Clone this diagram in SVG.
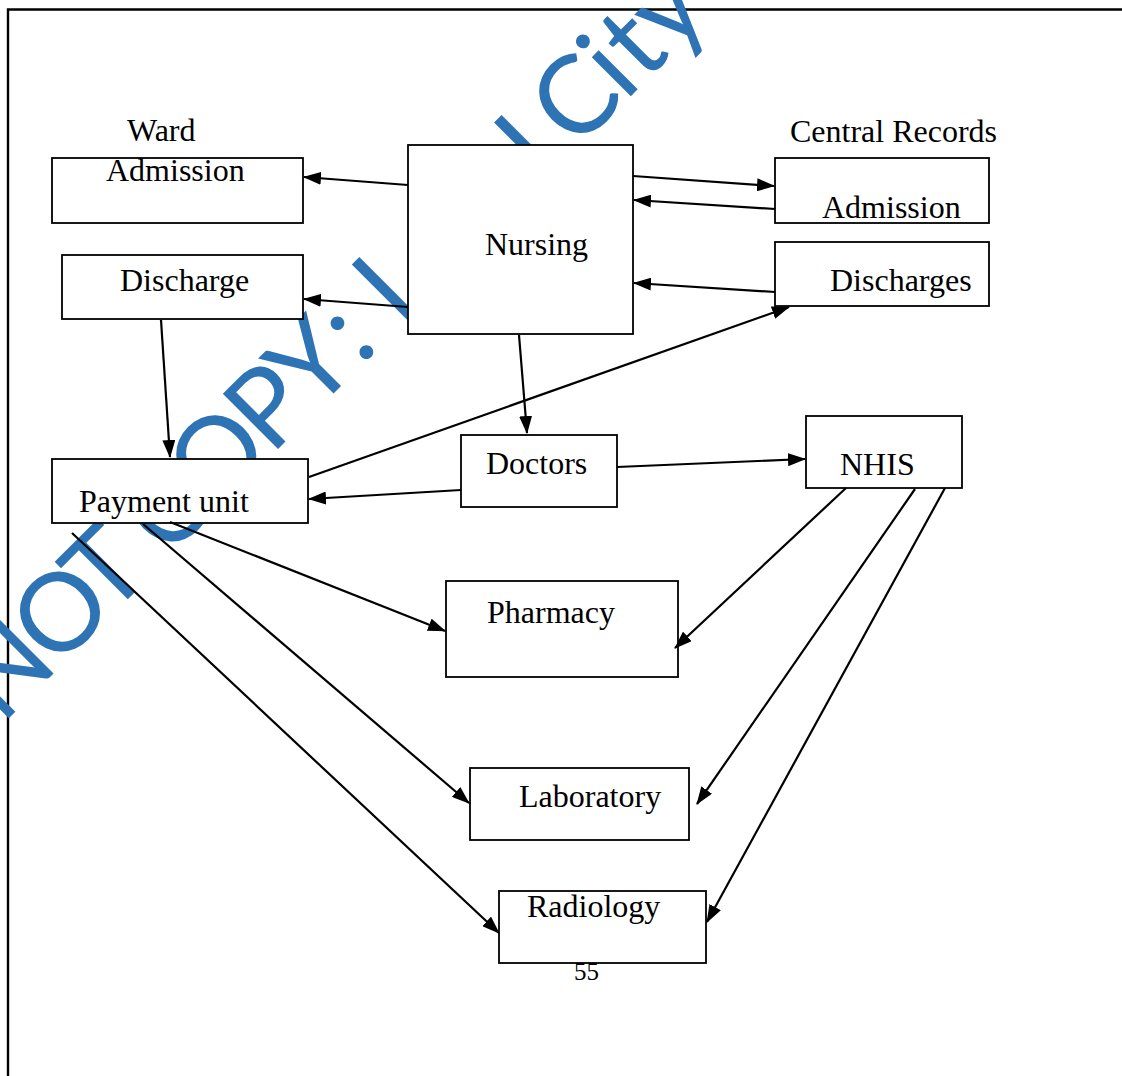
<svg xmlns="http://www.w3.org/2000/svg" width="1122" height="1076" viewBox="0 0 1122 1076">
<style>
.box{fill:#fff;stroke:#000;stroke-width:1.8}
.lbl{font-family:"Liberation Serif","Times New Roman",serif;font-size:32px;fill:#000}
.con line{stroke:#000;stroke-width:2.2;marker-end:url(#ah)}
.frame{stroke:#000;stroke-width:2.4;fill:none}
.wm{font-family:Lato,"Open Sans",sans-serif;font-size:109px;fill:#2E74B5}
</style>
<defs>
<marker id="ah" markerUnits="userSpaceOnUse" markerWidth="18" markerHeight="13" refX="17" refY="6.5" orient="auto"><path d="M0,0 L18,6.5 L0,13 z" fill="#000"/></marker>
</defs>
<rect width="1122" height="1076" fill="#fff"/>
<g id="frame"><path class="frame" d="M8,1076 V9.5 H1122"/></g>
<g id="watermark" transform="rotate(-45)"><text class="wm" y="514" text-anchor="middle" x="-470 -390 -328 -287 -241 -169 -98 -37 10 38 67 160 268 300 337 383 417 465">NOT COPY: I I City</text></g>
<g id="ward-admission"><text class="lbl" x="127" y="141">Ward</text><rect class="box" x="52" y="158" width="251" height="65"/><text class="lbl" x="106" y="181">Admission</text></g>
<g id="discharge"><rect class="box" x="62" y="255" width="241" height="64"/><text class="lbl" x="120" y="291">Discharge</text></g>
<g id="nursing"><rect class="box" x="408" y="145" width="225" height="189"/><text class="lbl" x="485" y="255">Nursing</text></g>
<g id="central-admission"><text class="lbl" x="790" y="142">Central Records</text><rect class="box" x="775" y="158" width="214" height="65"/><text class="lbl" x="822" y="218">Admission</text></g>
<g id="discharges"><rect class="box" x="775" y="242" width="214" height="64"/><text class="lbl" x="830" y="291">Discharges</text></g>
<g id="payment-unit"><rect class="box" x="52" y="459" width="256" height="64"/><text class="lbl" x="79" y="512">Payment unit</text></g>
<g id="doctors"><rect class="box" x="461" y="435" width="156" height="72"/><text class="lbl" x="486" y="474">Doctors</text></g>
<g id="nhis"><rect class="box" x="806" y="416" width="156" height="72"/><text class="lbl" x="840" y="475">NHIS</text></g>
<g id="pharmacy"><rect class="box" x="446" y="581" width="232" height="96"/><text class="lbl" x="487" y="623">Pharmacy</text></g>
<g id="laboratory"><rect class="box" x="470" y="768" width="219" height="72"/><text class="lbl" x="519" y="807">Laboratory</text></g>
<g id="radiology"><rect class="box" x="499" y="891" width="207" height="72"/><text class="lbl" x="527" y="917">Radiology</text></g>
<g id="page-number"><text class="lbl" x="574" y="980" style="font-size:25px">55</text></g>
<g id="connectors" class="con">
<line x1="408" y1="185" x2="304" y2="177"/>
<line x1="408" y1="307" x2="304" y2="299"/>
<line x1="633" y1="176" x2="774" y2="186"/>
<line x1="775" y1="209" x2="634" y2="200"/>
<line x1="775" y1="292" x2="634" y2="283"/>
<line x1="309" y1="477" x2="789" y2="307"/>
<line x1="519" y1="335" x2="527" y2="433"/>
<line x1="161" y1="320" x2="170" y2="457"/>
<line x1="461" y1="490" x2="309" y2="499"/>
<line x1="617" y1="467" x2="805" y2="459"/>
<line x1="170" y1="522" x2="445" y2="631"/>
<line x1="143" y1="524" x2="469" y2="803"/>
<line x1="72" y1="533" x2="499" y2="933"/>
<line x1="846" y1="488" x2="675" y2="648"/>
<line x1="915" y1="489" x2="697" y2="804"/>
<line x1="945" y1="488" x2="707" y2="922"/>
</g>
</svg>
